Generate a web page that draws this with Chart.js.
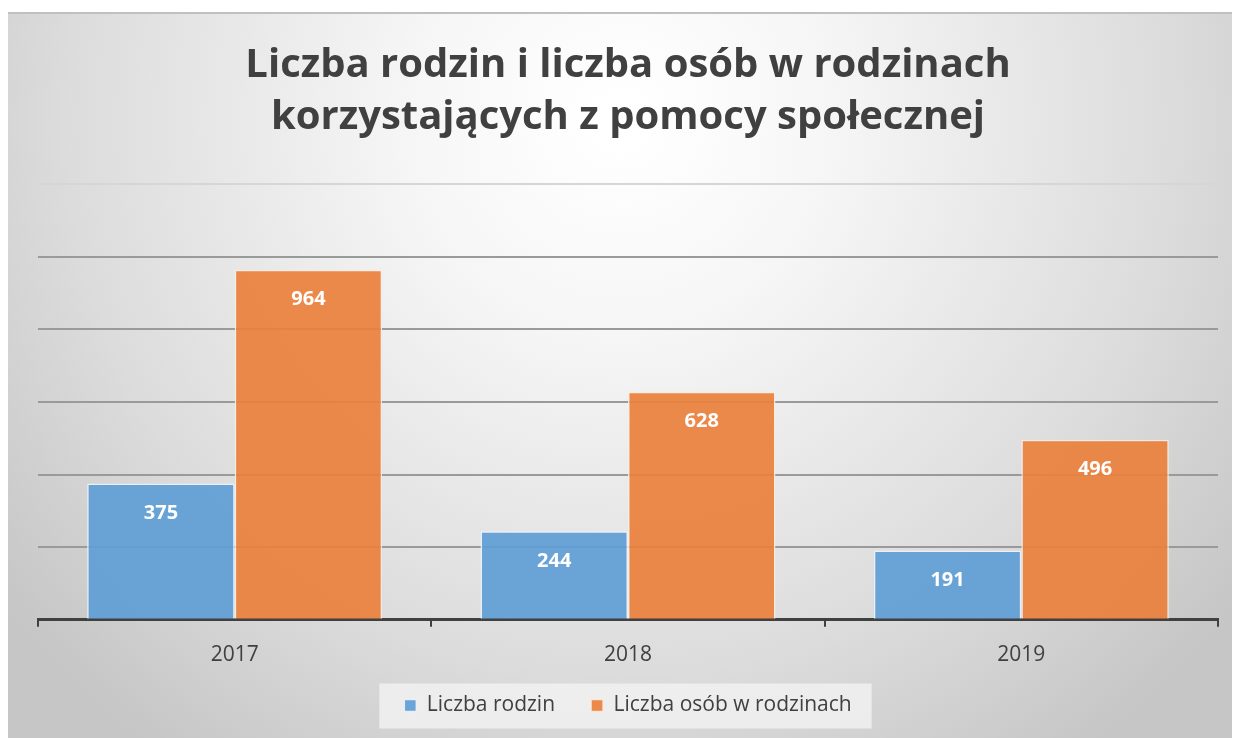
<!DOCTYPE html>
<html><head><meta charset="utf-8">
<script src="https://cdn.jsdelivr.net/npm/chart.js@4"></script>
<style>
html,body{margin:0;padding:0;background:#fff;}
#wrap{position:absolute;left:8px;top:12px;width:1224px;height:726px;}
canvas{display:block;}
</style></head>
<body>
<div id="wrap"><canvas id="c" width="1224" height="726"></canvas></div>
<script>
const categories = ['2017', '2018', '2019'];
const familiesLabel = 'Liczba rodzin';
const personsLabel = 'Liczba osób w rodzinach';
const families = [375, 244, 191];
const persons = [964, 628, 496];
const titleLines = ['Liczba rodzin i liczba osób w rodzinach', 'korzystających z pomocy społecznej'];

const bgPlugin = {
  id: 'bg',
  afterLayout(chart) {
    // let the category labels extend into the legend's empty top padding without clipping
    chart.scales.x.bottom += 30;
  },
  beforeDraw(chart) {
    const ctx = chart.ctx, w = chart.width, h = chart.height;
    ctx.save();
    const g = ctx.createRadialGradient(w*0.5, 110, 20, w*0.5, 110, 780);
    g.addColorStop(0, '#ffffff');
    g.addColorStop(0.25, '#f6f6f6');
    g.addColorStop(0.7, '#dcdcdc');
    g.addColorStop(1, '#c6c6c6');
    ctx.fillStyle = g;
    ctx.fillRect(0, 0, w, h);
    ctx.fillStyle = '#c0c0c0';
    ctx.fillRect(0, 0, w, 2);
    const boxes = chart.legend.legendHitBoxes;
    if (boxes && boxes.length) {
      const l = boxes[0].left - 25;
      const last = boxes[boxes.length - 1];
      const r = last.left + last.width + 20;
      const cy = boxes[0].top + boxes[0].height / 2;
      ctx.fillStyle = 'rgba(242,242,242,0.8)';
      ctx.fillRect(l, cy - 22, r - l, 45);
    }
    ctx.restore();
  }
};

const labelPlugin = {
  id: 'vals',
  afterDatasetsDraw(chart) {
    const ctx = chart.ctx;
    ctx.save();
    ctx.fillStyle = '#ffffff';
    ctx.font = 'bold 20px "Open Sans", sans-serif';
    ctx.textAlign = 'center';
    ctx.textBaseline = 'middle';
    chart.data.datasets.forEach((ds, i) => {
      chart.getDatasetMeta(i).data.forEach((bar, j) => {
        ctx.fillText(String(ds.data[j]), bar.x, bar.y + 30);
      });
    });
    ctx.restore();
  }
};

new Chart(document.getElementById('c'), {
  type: 'bar',
  data: {
    labels: categories,
    datasets: [
      { label: familiesLabel, data: families, backgroundColor: 'rgba(96,157,213,0.92)', borderColor: 'rgba(235,242,250,0.9)', borderWidth: 1.5 },
      { label: personsLabel, data: persons, backgroundColor: 'rgba(234,128,60,0.92)', borderColor: 'rgba(250,235,225,0.9)', borderWidth: 1.5 }
    ]
  },
  options: {
    responsive: false,
    animation: false,
    layout: { padding: { left: 30, right: 14, top: 14, bottom: 12 } },
    datasets: { bar: { categoryPercentage: 0.75, barPercentage: 1 } },
    plugins: {
      title: {
        display: true,
        text: titleLines,
        color: '#404040',
        font: { family: '"Open Sans", sans-serif', size: 40, weight: 'bold', lineHeight: 1.3 },
        padding: { top: 14, bottom: 40 }
      },
      legend: {
        position: 'bottom',
        labels: { color: '#404040', font: { family: '"Open Sans", sans-serif', size: 21 }, boxWidth: 12, boxHeight: 12, padding: 36 }
      },
      tooltip: { enabled: false }
    },
    scales: {
      x: {
        grid: { offset: true, drawOnChartArea: false, tickLength: 7, color: '#404040', lineWidth: 2 },
        border: { color: '#404040', width: 3 },
        ticks: { color: '#404040', font: { family: '"Open Sans", sans-serif', size: 21 }, padding: 16 },
        afterFit: scale => { scale.height -= 25; }
      },
      y: {
        min: 0, max: 1200,
        ticks: { display: false, stepSize: 200 },
        grid: { color: ctx => ctx.tick.value === 1200 ? '#d6d6d6' : '#9a9a9a', lineWidth: 2, drawTicks: false },
        border: { display: false }
      }
    }
  },
  plugins: [bgPlugin, labelPlugin]
});
</script>
</body></html>
